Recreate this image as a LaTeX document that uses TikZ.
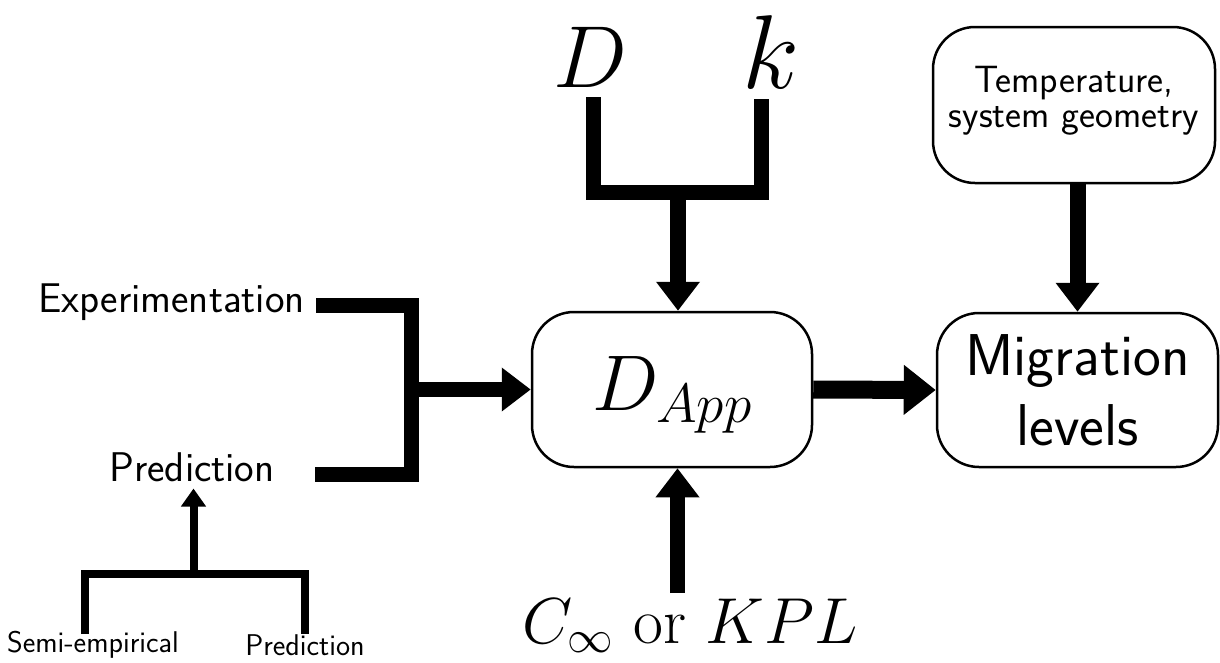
\RequirePackage{fix-cm}
\documentclass[tikz,border=0pt]{standalone}
\usepackage{fontspec}
\usetikzlibrary{arrows.meta}
\begin{document}
\begin{tikzpicture}[x=1pt,y=-1pt,
  box/.style={draw, line width=2.5pt, rounded corners=42pt, inner sep=0pt, align=center},
  lbl/.style={inner sep=0pt, font=\sffamily\fontsize{41.5}{44}\selectfont},
  small/.style={inner sep=0pt, font=\sffamily\fontsize{30}{33}\selectfont},
  mathlbl/.style={inner sep=0pt, anchor=base},
  thick bar/.style={line width=15pt, line join=miter},
  big arrow/.style={line width=16pt, -{Triangle[width=42pt,length=29pt]}},
  thin bar/.style={line width=8pt, line join=miter},
  thin arrow/.style={line width=8pt, -{Triangle[width=24pt,length=18pt]}}
]
\useasboundingbox (0,0) rectangle (1220,662);
% boxes
\node[box, minimum width=280pt, minimum height=155pt, text height=54pt, text depth=12pt,
      font=\fontsize{79}{86}\selectfont] (dapp) at (672,389.5) {$D_{App}$};
\node[box, minimum width=281pt, minimum height=154pt, text height=120pt, text depth=10pt,
      font=\sffamily\fontsize{59}{70}\selectfont] (mig) at (1077.5,390) {Migration\\ levels};
\node[box, minimum width=282pt, minimum height=156pt, text height=54pt, text depth=10pt,
      font=\sffamily\fontsize{38}{35}\selectfont] (temp) at (1074,105) {Temperature,\\ system geometry};
% top inputs
\node[mathlbl, font=\fontsize{88}{96}\selectfont] (D) at (590,87) {$D$};
\node[mathlbl, font=\fontsize{105}{112}\selectfont] (k) at (771,88) {$k$};
\coordinate (Db) at (593,97);
\coordinate (kb) at (761,99);
\coordinate (Dc) at (593,192.5);
\coordinate (kc) at (761,192.5);
\coordinate (dkm) at (678,192.5);
\draw[thick bar] (Db) -- (Dc) -- (kc) -- (kb);
\draw[big arrow] (dkm) -- (dkm |- dapp.north);
% temperature
\draw[big arrow] (temp.south -| mig.north) -- (mig.north);
% dapp -> migration
\draw[line width=18pt, -{Triangle[width=48pt,length=32pt]}] (dapp.east) -- (mig.west);
% bottom
\node[mathlbl, font=\fontsize{65}{70}\selectfont] (ck) at (690,643) {$C_\infty$ or $KPL$};
\coordinate (cb) at (677.5,593);
\draw[big arrow, line width=15pt] (cb) -- (cb |- dapp.south);
% left
\node[lbl, anchor=east] (exp) at (305,302) {Experimentation};
\node[lbl, anchor=base] (pred) at (192,481) {Prediction};
\coordinate (e1) at (316,305);
\coordinate (e2) at (411,305);
\coordinate (p1) at (315,474.5);
\coordinate (p2) at (411,474.5);
\coordinate (pm) at (411,389.5);
\draw[thick bar] (e1) -- (e2) -- (p2) -- (p1);
\draw[big arrow, line width=15pt] (pm) -- (pm -| dapp.west);
% lower left
\node[small] (semi) at (93,645) {Semi-empirical};
\node[small] (pred2) at (305,645) {Prediction};
\coordinate (s1) at (85,634);
\coordinate (s2) at (85,574);
\coordinate (s3) at (304.5,574);
\coordinate (s4) at (304.5,634);
\coordinate (sm) at (193.5,574);
\draw[thin bar] (s1) -- (s2) -- (s3) -- (s4);
\draw[thin arrow, shorten >=7pt] (sm) -- (sm |- pred.south);
\end{tikzpicture}
\end{document}
